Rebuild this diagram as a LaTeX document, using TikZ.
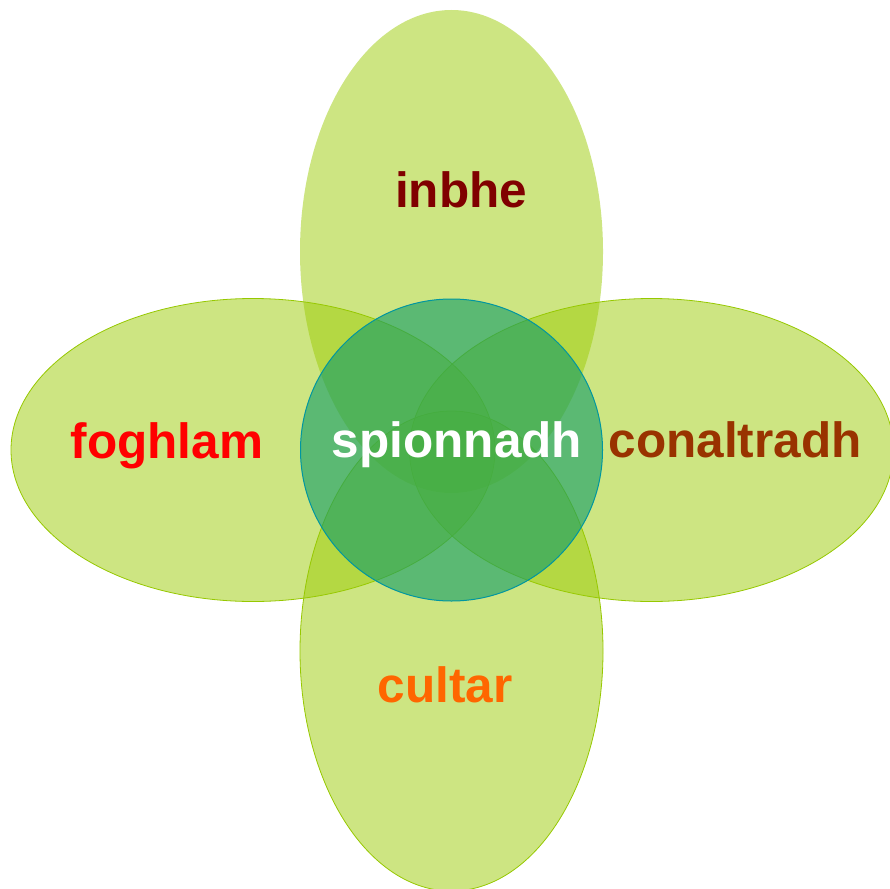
\documentclass[tikz,border=0pt]{standalone}
\usepackage{fontspec}
\setmainfont{Liberation Sans}
\definecolor{leaf}{RGB}{155,203,5}
\definecolor{leafline}{RGB}{150,200,0}
\definecolor{core}{RGB}{15,155,105}
\definecolor{coreline}{RGB}{0,150,160}
\definecolor{brick}{RGB}{153,51,0}
\definecolor{maroon}{RGB}{128,0,0}
\definecolor{tangerine}{RGB}{255,102,0}
\begin{document}
\begin{tikzpicture}[x=1pt,y=-1pt,every node/.style={font=\fontsize{49.5}{52}\selectfont\bfseries,anchor=base}]
\useasboundingbox (0,0) rectangle (890,888);
\clip (0,0) rectangle (890,888);
% petals
\fill[leaf,fill opacity=0.5](451.5,251.5) ellipse [x radius=151.5,y radius=241.5];
\filldraw[fill=leaf,fill opacity=0.5,draw=leafline,line width=0.8pt](253,450) ellipse [x radius=242,y radius=151.5];
\filldraw[fill=leaf,fill opacity=0.5,draw=leafline,line width=0.8pt](651.5,450) ellipse [x radius=242,y radius=151.5];
\filldraw[fill=leaf,fill opacity=0.5,draw=leafline,line width=0.8pt](451.5,651) ellipse [x radius=151.5,y radius=240];
% centre
\filldraw[fill=core,fill opacity=0.6,draw=coreline,line width=1pt](451.5,450) circle (151);
\node[maroon] (inbhe) at (461,207){inbhe};
\node[red] (foghlam) at (167,458){foghlam};
\node[white] (spionnadh) at (457,457){spionnadh};
\node[brick] (conaltradh) at (735,457){conaltradh};
\node[tangerine] (cultar) at (445,702){cultar};
\end{tikzpicture}
\end{document}
